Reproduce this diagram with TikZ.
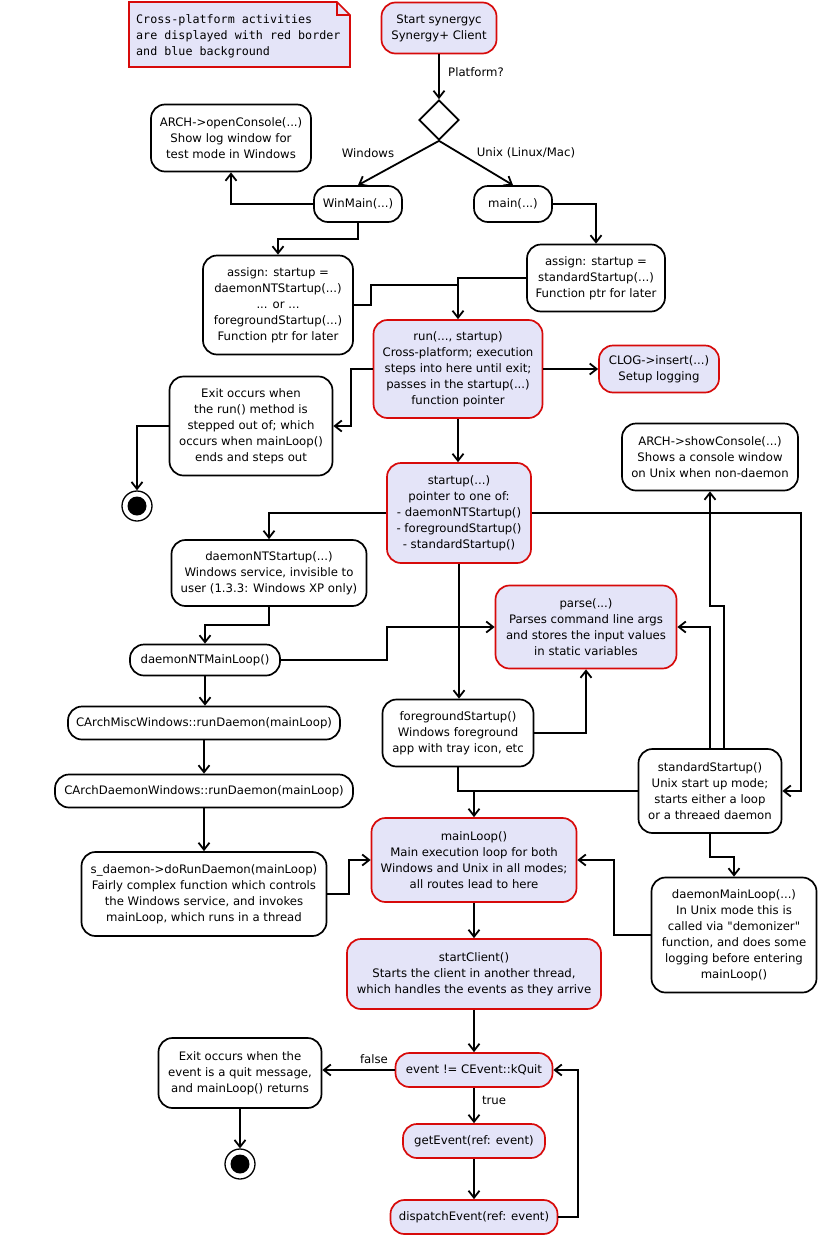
\documentclass[tikz,border=0pt]{standalone}
\usepackage{fontspec}
\setmainfont{DejaVu Sans}[Ligatures=TeXOff]
\setmonofont{DejaVu Sans Mono}[Ligatures=TeXOff]
\usetikzlibrary{arrows.meta,shapes.geometric}
\definecolor{xred}{RGB}{215,10,10}
\definecolor{xfill}{RGB}{228,228,248}
\tikzset{
  every node/.style={font=\fontsize{11.7}{16}\selectfont},
  act/.style={draw=black, line width=1.7pt, rounded corners=14pt, fill=white, align=center, inner sep=0pt},
  xact/.style={act, draw=xred, fill=xfill},
  arr/.style={line width=1.8pt, -{Straight Barb[length=7pt,width=11pt]}},
  ln/.style={line width=1.8pt},
  lbl/.style={inner sep=0pt},
  endc/.style={circle, draw=black, line width=1.3pt, fill=white, minimum size=30pt, inner sep=0pt,
    path picture={\fill[black] (path picture bounding box.center) circle (9.5pt);}},
}
\begin{document}
\begin{tikzpicture}[x=1pt,y=-1pt]
\useasboundingbox (0,0) rectangle (818,1237);
% note
\fill[xfill] (129,2) -- (337,2) -- (350,15) -- (350,67) -- (129,67) -- cycle;
\draw[xred, line width=1.7pt] (129,2) -- (337,2) -- (350,15) -- (350,67) -- (129,67) -- cycle;
\draw[xred, line width=1.2pt] (337,2) -- (337,15) -- (350,15);
\node[lbl, anchor=west, align=left, font=\ttfamily\fontsize{11.7}{16}\selectfont] (note) at (136,36)
  {Cross-platform activities\\are displayed with red border\\and blue background};

\node[xact, minimum width=115pt, minimum height=51pt] (start) at (439,28) {Start synergyc\\Synergy+ Client};
\node[diamond, draw=black, line width=1.7pt, fill=white, minimum width=40pt, minimum height=40pt, inner sep=0pt] (dia) at (439,120) {};
\node[act, minimum width=160pt, minimum height=67pt] (console) at (231,138) {ARCH->openConsole(...)\\Show log window for\\test mode in Windows};
\node[act, minimum width=88pt, minimum height=36pt] (winmain) at (358,204) {WinMain(...)};
\node[act, minimum width=78pt, minimum height=36pt] (main) at (513,204) {main(...)};
\node[act, minimum width=150pt, minimum height=99pt] (assign1) at (278,305) {assign: startup =\\daemonNTStartup(...)\\... or ...\\foregroundStartup(...)\\Function ptr for later};
\node[act, minimum width=138pt, minimum height=67pt] (assign2) at (596,278) {assign: startup =\\standardStartup(...)\\Function ptr for later};
\node[xact, minimum width=169pt, minimum height=98pt] (run) at (458,369) {run(..., startup)\\Cross-platform; execution\\steps into here until exit;\\passes in the startup(...)\\function pointer};
\node[xact, minimum width=120pt, minimum height=47pt] (clog) at (659,369) {CLOG->insert(...)\\Setup logging};
\node[act, minimum width=163pt, minimum height=99pt] (exit1) at (251,426) {Exit occurs when\\the run() method is\\stepped out of; which\\occurs when mainLoop()\\ends and steps out};
\node[endc] (end1) at (137,506) {};
\node[xact, minimum width=144pt, minimum height=100pt] (startup) at (459,513) {startup(...)\\pointer to one of:\\- daemonNTStartup()\\- foregroundStartup()\\- standardStartup()};
\node[act, minimum width=176pt, minimum height=67pt] (showc) at (710,457) {ARCH->showConsole(...)\\Shows a console window\\on Unix when non-daemon};
\node[act, minimum width=195pt, minimum height=66pt] (dnt) at (269,573) {daemonNTStartup(...)\\Windows service, invisible to\\user (1.3.3: Windows XP only)};
\node[xact, minimum width=181pt, minimum height=83pt] (parse) at (586,627) {parse(...)\\Parses command line args\\and stores the input values\\in static variables};
\node[act, minimum width=150pt, minimum height=31pt] (dntml) at (205,660) {daemonNTMainLoop()};
\node[act, minimum width=151pt, minimum height=67pt] (fg) at (458,733) {foregroundStartup()\\Windows foreground\\app with tray icon, etc};
\node[act, minimum width=272pt, minimum height=33pt] (misc) at (204,723) {CArchMiscWindows::runDaemon(mainLoop)};
\node[act, minimum width=298pt, minimum height=33pt] (dwin) at (204,791) {CArchDaemonWindows::runDaemon(mainLoop)};
\node[act, minimum width=143pt, minimum height=84pt] (standard) at (710,791) {standardStartup()\\Unix start up mode;\\starts either a loop\\or a threaed daemon};
\node[act, minimum width=245pt, minimum height=84pt] (sdaemon) at (204,894) {s\_daemon->doRunDaemon(mainLoop)\\Fairly complex function which controls\\the Windows service, and invokes\\mainLoop, which runs in a thread};
\node[xact, minimum width=205pt, minimum height=84pt] (mainloop) at (474,860) {mainLoop()\\Main execution loop for both\\Windows and Unix in all modes;\\all routes lead to here};
\node[act, minimum width=165pt, minimum height=115pt] (dml) at (734,935) {daemonMainLoop(...)\\In Unix mode this is\\called via "demonizer"\\function, and does some\\logging before entering\\mainLoop()};
\node[xact, minimum width=254pt, minimum height=70pt] (sclient) at (474,974) {startClient()\\Starts the client in another thread,\\which handles the events as they arrive};
\node[xact, minimum width=157pt, minimum height=34pt] (event) at (474,1070) {event != CEvent::kQuit};
\node[act, minimum width=163pt, minimum height=70pt] (exit2) at (240,1073) {Exit occurs when the\\event is a quit message,\\and mainLoop() returns};
\node[endc] (end2) at (240,1164) {};
\node[xact, minimum width=142pt, minimum height=34pt] (getev) at (474,1141) {getEvent(ref: event)};
\node[xact, minimum width=167pt, minimum height=34pt] (disp) at (474,1217) {dispatchEvent(ref: event)};

% labels
\node[lbl, anchor=west] (lplat) at (448,72) {Platform?};
\node[lbl] (lwin) at (368,153) {Windows};
\node[lbl] (lunix) at (526,153) {Unix (Linux/Mac)};
\node[lbl] (lfalse) at (374,1059) {false};
\node[lbl] (ltrue) at (494,1100) {true};

% connectors
\draw[arr] (start.south) -- (start.south |- dia.north);
\draw[arr] (dia.south) -- (winmain.north);
\draw[arr] (dia.south) -- (main.north);
\draw[arr] (winmain.west) -| (console.south);
\draw[arr] (winmain.south) -- ++(0,16) -| (assign1.north);
\draw[arr] (main.east) -| (assign2.north);
\draw[ln] (assign1.east) -- ++(17,0) |- ([yshift=34pt]run.north);
\draw[arr] (assign2.west) -| (run.north);
\draw[arr] (run.east) -- (clog.west);
\draw[arr] (run.west) -- ++(-22,0) |- (exit1.east);
\draw[arr] (exit1.west) -| (end1.north);
\draw[arr] (run.south) -- (run.south |- startup.north);
\draw[arr] (startup.west) -| (dnt.north);
\draw[arr] (startup.east) -- ++(269,0) |- (standard.east);
\draw[arr] (startup.south) -- (startup.south |- fg.north);
\draw[arr] (dnt.south) -- ++(0,18) -| (dntml.north);
\draw[arr] (dntml.east) -- ++(106,0) |- (parse.west);
\draw[arr] (fg.east) -| (parse.south);
\draw[ln] (fg.south) |- (standard.west);
\draw[arr] (standard.west) -| (mainloop.north);
\draw[arr] ([xshift=14pt]standard.north) -- ++(0,-142) -| (showc.south);
\draw[arr] (standard.north) |- (parse.east);
\draw[arr] (standard.south) -- ++(0,23) -| (dml.north);
\draw[arr] (dml.west) -- ++(-37,0) |- (mainloop.east);
\draw[arr] (dntml.south) -- (dntml.south |- misc.north);
\draw[arr] (misc.south) -- (misc.south |- dwin.north);
\draw[arr] (dwin.south) -- (dwin.south |- sdaemon.north);
\draw[arr] (sdaemon.east) -- ++(22,0) |- (mainloop.west);
\draw[arr] (mainloop.south) -- (mainloop.south |- sclient.north);
\draw[arr] (sclient.south) -- (sclient.south |- event.north);
\draw[arr] (event.west) -- (event.west -| exit2.east);
\draw[arr] (exit2.south) -- (end2.north);
\draw[arr] (event.south) -- (event.south |- getev.north);
\draw[arr] (getev.south) -- (getev.south |- disp.north);
\draw[arr] (disp.east) -- ++(20,0) |- (event.east);
\end{tikzpicture}
\end{document}
